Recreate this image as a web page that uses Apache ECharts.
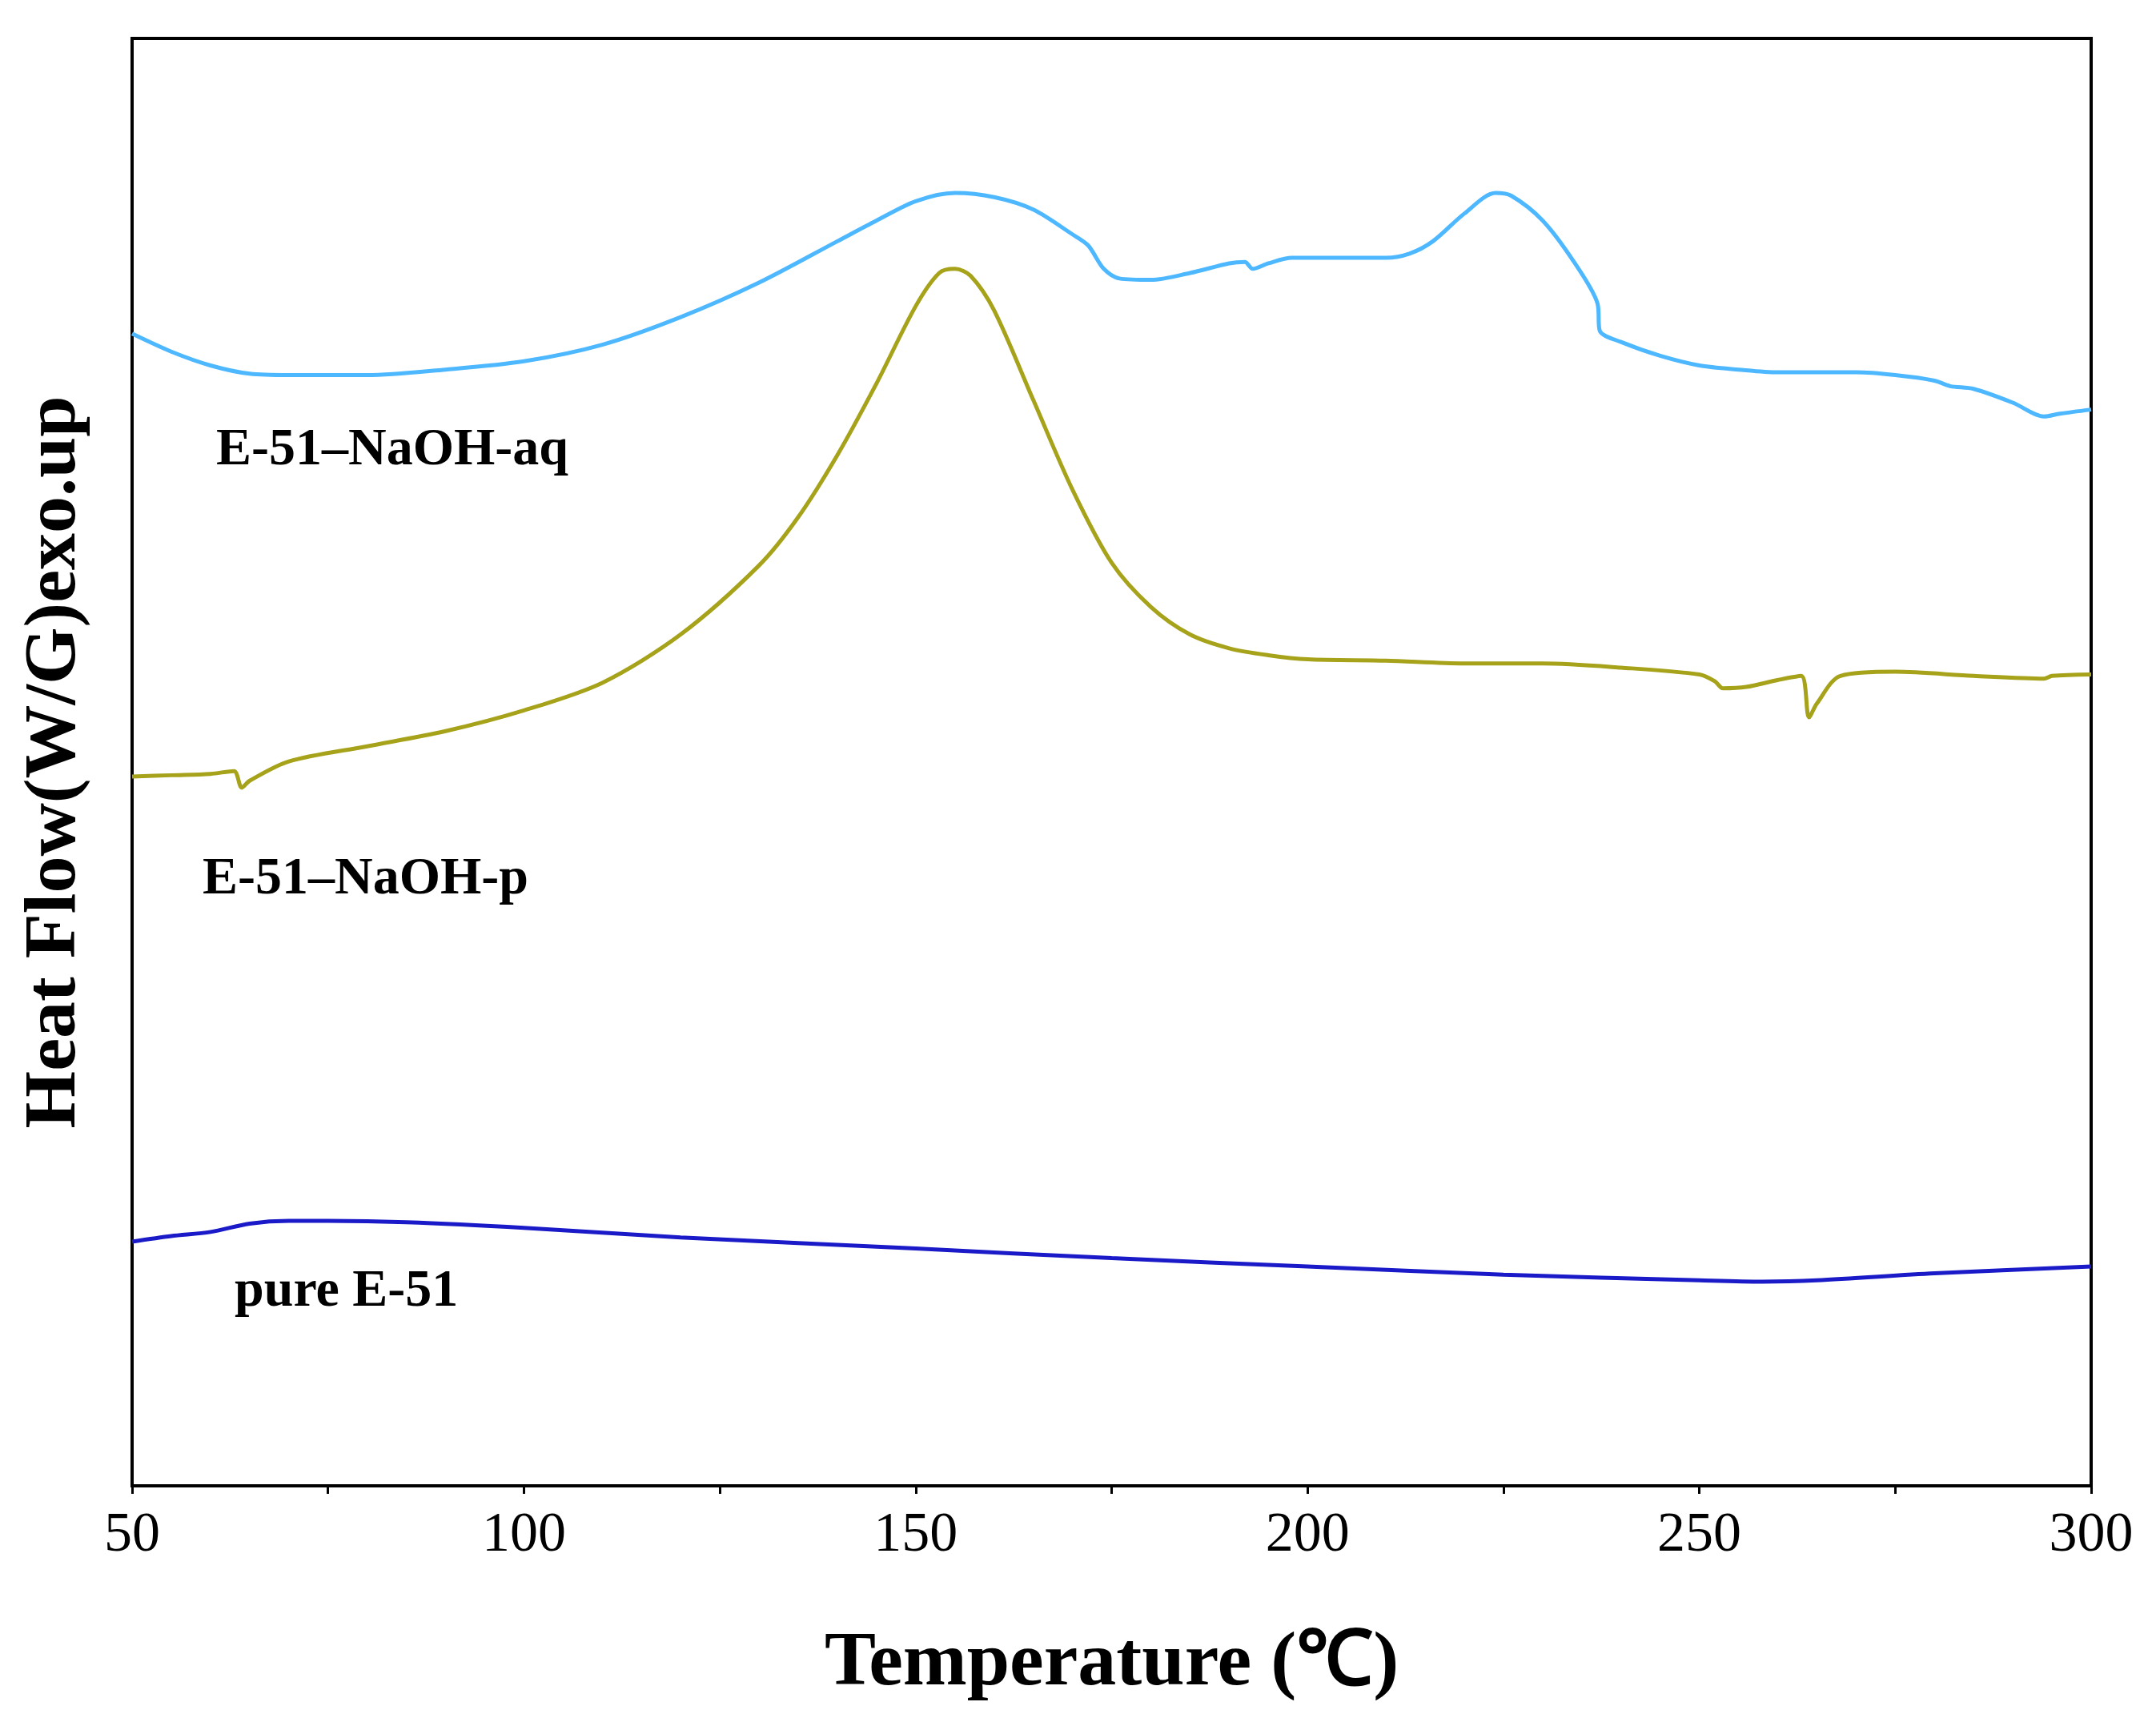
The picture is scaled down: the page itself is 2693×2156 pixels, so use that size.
<!DOCTYPE html>
<html><head><meta charset="utf-8">
<script src="https://cdn.jsdelivr.net/npm/echarts@6/dist/echarts.min.js"></script>
<style>html,body{margin:0;padding:0;background:#fff}#c{width:2693px;height:2156px}</style>
</head><body><div id="c"></div>
<script>
// values: [temperature, heat flow (arbitrary units, offset baseline)]
const aqT=[50,55,60,65,70,80,90,100,110,120,130,140,145,150,155,160,165,170,172,174,176,180,185,190,192,193,195,198,205,210,213,216,220,224,226,230,234,237,237.3,240,245,250,255,260,265,270,275,280,282,285,290,294,296,300];
const aqPix=[242,255,265,271,272,272,268,262,250,230,205,175,160,146,140,143,152,170,178,195,202,203,198,191,190,195,191,187,187,187,184,175,155,140,142,160,190,220,240,248,258,265,268,270,270,270,272,276,280,282,292,302,300,297];
const pT=[50,55,60,63,64,65,70,80,90,100,110,120,130,135,140,145,150,153,155,157,160,165,170,175,180,185,190,195,200,210,220,230,240,250,252,253,256,260,263,264,265,268,275,285,294,295,300];
const pPix=[563,562,561,559,571,566,552,541,530,515,495,460,410,375,330,278,222,198,195,200,225,290,355,408,440,460,470,475,478,479,481,481,484,489,494,499,498,493,490,520,510,490,487,490,492,490,489];
const pureT=[50,55,60,65,70,75,85,100,120,150,175,200,225,250,258,265,280,300];
const purePix=[900,896,893,887,885,885,886,890,897,905,912,918,924,928,929,928,923,918];
const xTicks=[50,100,150,200,250,300];
const labels=["E-51–NaOH-aq","E-51–NaOH-p","pure E-51"];
const toVal=(t,p)=>t.map((x,i)=>[x,1077-p[i]]);
const ch=echarts.init(document.getElementById('c'));
const F='"Liberation Serif","Times New Roman",serif';
const s=(n,d,c)=>({name:n,type:'line',data:d,showSymbol:false,smooth:0.3,lineStyle:{color:c,width:5},itemStyle:{color:c}});
ch.setOption({
 animation:false,
 grid:{left:165,right:81,top:48,bottom:300,show:true,borderColor:'#000',borderWidth:4},
 xAxis:{type:'value',min:50,max:300,interval:50,
  axisLine:{lineStyle:{color:'#000',width:4}},
  axisTick:{length:10,lineStyle:{width:3,color:'#000'}},
  minorTick:{show:true,splitNumber:2,length:10,lineStyle:{width:3,color:'#000'}},
  splitLine:{show:false},
  axisLabel:{fontFamily:F,fontSize:70,color:'#000',margin:28,formatter:v=>xTicks.includes(v)?v:''},
  name:'Temperature (℃)',nameLocation:'middle',nameGap:175,
  nameTextStyle:{fontFamily:F,fontSize:96,fontWeight:'bold',color:'#000'}},
 yAxis:{type:'value',min:0,max:1049,show:true,axisLabel:{show:false},axisTick:{show:false},splitLine:{show:false},
  axisLine:{show:true,lineStyle:{color:'#000',width:4}},
  name:'Heat Flow(W/G)exo.up',nameLocation:'middle',nameGap:50,
  nameTextStyle:{fontFamily:F,fontSize:92,fontWeight:'bold',color:'#000'}},
 series:[s(labels[0],toVal(aqT,aqPix),'#4db8ff'),s(labels[1],toVal(pT,pPix),'#a6a21a'),s(labels[2],toVal(pureT,purePix),'#1a1ac8')],
 graphic:[
  {type:'text',left:270,top:530,style:{text:labels[0],font:'bold 66px '+F,fill:'#000'}},
  {type:'text',left:253,top:1066,style:{text:labels[1],font:'bold 66px '+F,fill:'#000'}},
  {type:'text',left:293,top:1581,style:{text:labels[2],font:'bold 66px '+F,fill:'#000'}}
 ]
});
</script></body></html>
